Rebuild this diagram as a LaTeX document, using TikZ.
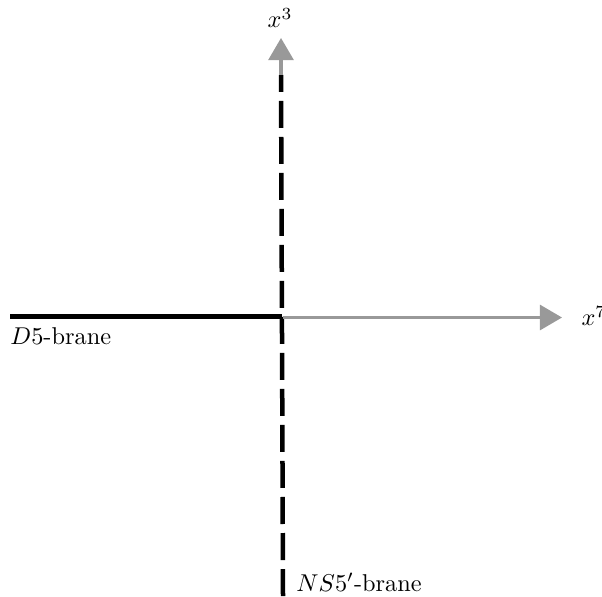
\documentclass[tikz,border=0pt]{standalone}
\usetikzlibrary{arrows.meta}
\begin{document}
\begin{tikzpicture}[x=0.411pt,y=-0.411pt,
  axis/.style={draw=black!40, line width=1.25pt, -{Triangle[length=9.1pt,width=10.3pt]}},
  brane/.style={draw=black, line width=1.85pt},
  dbrane/.style={brane, dash pattern=on 11.1pt off 3.7pt},
  lbl/.style={inner sep=0pt}]
\useasboundingbox (0,0) rectangle (602,596);
\coordinate (O) at (282,316.5);
\coordinate (L) at (10,316.5);
\coordinate (B) at (283,596);
\coordinate (T) at (281,75);
\coordinate (Ttip) at (281,38);
\coordinate (R) at (283,317.5);
\coordinate (Rtip) at (562,317.5);
% branes
\draw[dbrane] (B) -- (T);
\draw[brane] (L) -- (O);
% axes
\draw[axis] (R) -- (Rtip);
\draw[axis] (T) -- (Ttip);
% labels
\node[lbl, anchor=center] (x3) at (280,18) {$x^3$};
\node[lbl, anchor=west] (x7) at (581,316) {$x^7$};
\node[lbl, anchor=base west] (d5) at (10,344) {$D5$-brane};
\node[lbl, anchor=base west] (ns5) at (296,591) {$NS5'$-brane};
\end{tikzpicture}
\end{document}
